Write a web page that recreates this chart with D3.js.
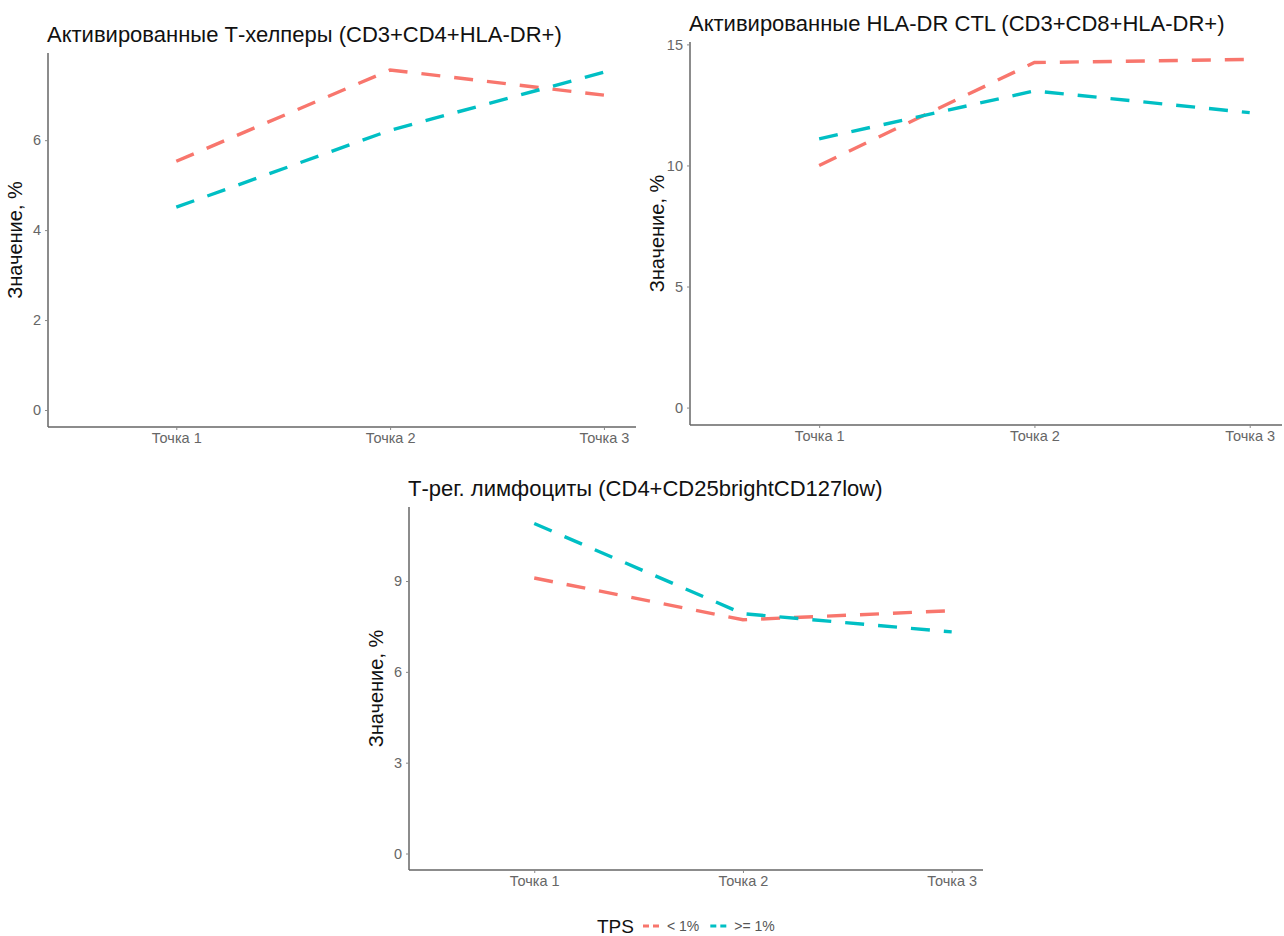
<!DOCTYPE html>
<html>
<head>
<meta charset="utf-8">
<script src="https://cdn.jsdelivr.net/npm/d3@7"></script>
<style>
  body { margin: 0; background: #fff; }
  svg { display: block; font-family: "Liberation Sans", Arial, sans-serif; }
</style>
</head>
<body>
<div id="graph"></div>
<script>
  const categories = ['Точка 1', 'Точка 2', 'Точка 3'];
  const groups = ['< 1%', '>= 1%'];
  const groupColors = ['#F8766D', '#00BFC4'];

  // panel 1: activated T-helpers
  const helperLow = [5.53, 7.56, 7.0];
  const helperHigh = [4.51, 6.22, 7.51];
  const helperTicks = [0, 2, 4, 6];

  // panel 2: activated HLA-DR CTL
  const ctlLow = [10.0, 14.25, 14.38];
  const ctlHigh = [11.1, 13.08, 12.18];
  const ctlTicks = [0, 5, 10, 15];

  // panel 3: T-reg lymphocytes
  const tregLow = [9.1, 7.72, 8.02];
  const tregHigh = [10.9, 7.92, 7.32];
  const tregTicks = [0, 3, 6, 9];

  const titles = [
    'Активированные Т-хелперы (CD3+CD4+HLA-DR+)',
    'Активированные HLA-DR CTL (CD3+CD8+HLA-DR+)',
    'Т-рег. лимфоциты (CD4+CD25brightCD127low)'
  ];
  const yTitle = 'Значение, %';
  const legendTitle = 'TPS';

  const width = 1284;
  const height = 936;

  const svg = d3.select('#graph').append('svg')
    .attr('width', width)
    .attr('height', height);

  const defs = svg.append('defs');

  // ggplot-like: y starts at 0, 5% expansion of the range each side
  const drawPanel = (opts) => {
    const {id, title, series, ticks, left, right, top, bottom, clipRight} = opts;

    const maxVal = d3.max(series.flat());
    const pad = maxVal * 0.05;

    const x = d3.scaleLinear().domain([0.4, 3.15]).range([left, right]);
    const y = d3.scaleLinear().domain([-pad, maxVal + pad]).range([bottom, top]);

    defs.append('clipPath').attr('id', 'clip' + id)
      .append('rect')
      .attr('x', 0).attr('y', 0)
      .attr('width', clipRight).attr('height', height);

    const g = svg.append('g').attr('clip-path', `url(#clip${id})`);

    g.append('text')
      .attr('x', left - 1)
      .attr('y', top - 11)
      .attr('font-size', 22)
      .attr('fill', '#111')
      .text(title);

    const yAxis = g.append('g')
      .attr('transform', `translate(${left},0)`)
      .call(d3.axisLeft(y).tickValues(ticks).tickSize(3).tickPadding(4).tickFormat(d3.format('d')));

    const xAxis = g.append('g')
      .attr('transform', `translate(0,${bottom})`)
      .call(d3.axisBottom(x).tickValues([1, 2, 3]).tickSize(3).tickPadding(3)
        .tickFormat(i => categories[i - 1]));

    for (const ax of [yAxis, xAxis]) {
      ax.select('.domain').attr('stroke', '#666').attr('stroke-width', 1.5);
      ax.selectAll('.tick line').attr('stroke', '#888');
      ax.selectAll('.tick text')
        .attr('fill', '#666')
        .attr('font-size', 14.5)
        .attr('font-family', '"Liberation Sans", Arial, sans-serif');
    }
    // extend axis lines to their full panel length
    yAxis.select('.domain').attr('d', `M0,${bottom}V${top}`);
    xAxis.select('.domain').attr('d', `M${left},0H${right}`);

    g.append('text')
      .attr('transform', `translate(${left - 26},${(top + bottom) / 2}) rotate(-90)`)
      .attr('text-anchor', 'middle')
      .attr('font-size', 20)
      .attr('fill', '#111')
      .text(yTitle);

    const line = d3.line()
      .x((d, i) => x(i + 1))
      .y(d => y(d));

    g.selectAll('path.series')
      .data(series)
      .join('path')
      .attr('class', 'series')
      .attr('fill', 'none')
      .attr('stroke', (d, i) => groupColors[i])
      .attr('stroke-width', 3.4)
      .attr('stroke-dasharray', '19,14')
      .attr('d', line);
  };

  drawPanel({id: 1, title: titles[0], series: [helperLow, helperHigh], ticks: helperTicks,
    left: 48, right: 636, top: 53, bottom: 427, clipRight: 641});
  drawPanel({id: 2, title: titles[1], series: [ctlLow, ctlHigh], ticks: ctlTicks,
    left: 690, right: 1282, top: 42, bottom: 425, clipRight: width});
  drawPanel({id: 3, title: titles[2], series: [tregLow, tregHigh], ticks: tregTicks,
    left: 409, right: 983, top: 507, bottom: 870, clipRight: width});

  // legend
  const legend = svg.append('g').attr('transform', 'translate(597,926)');
  legend.append('text')
    .attr('y', 7)
    .attr('font-size', 19)
    .attr('fill', '#111')
    .text(legendTitle);

  let lx = 46;
  groups.forEach((name, i) => {
    legend.append('line')
      .attr('x1', lx).attr('x2', lx + 17)
      .attr('y1', 0).attr('y2', 0)
      .attr('stroke', groupColors[i])
      .attr('stroke-width', 3)
      .attr('stroke-dasharray', '6,4');
    const t = legend.append('text')
      .attr('x', lx + 24)
      .attr('y', 5)
      .attr('font-size', 14)
      .attr('fill', '#555')
      .text(name);
    lx += 24 + t.node().getComputedTextLength() + 11;
  });
</script>
</body>
</html>
